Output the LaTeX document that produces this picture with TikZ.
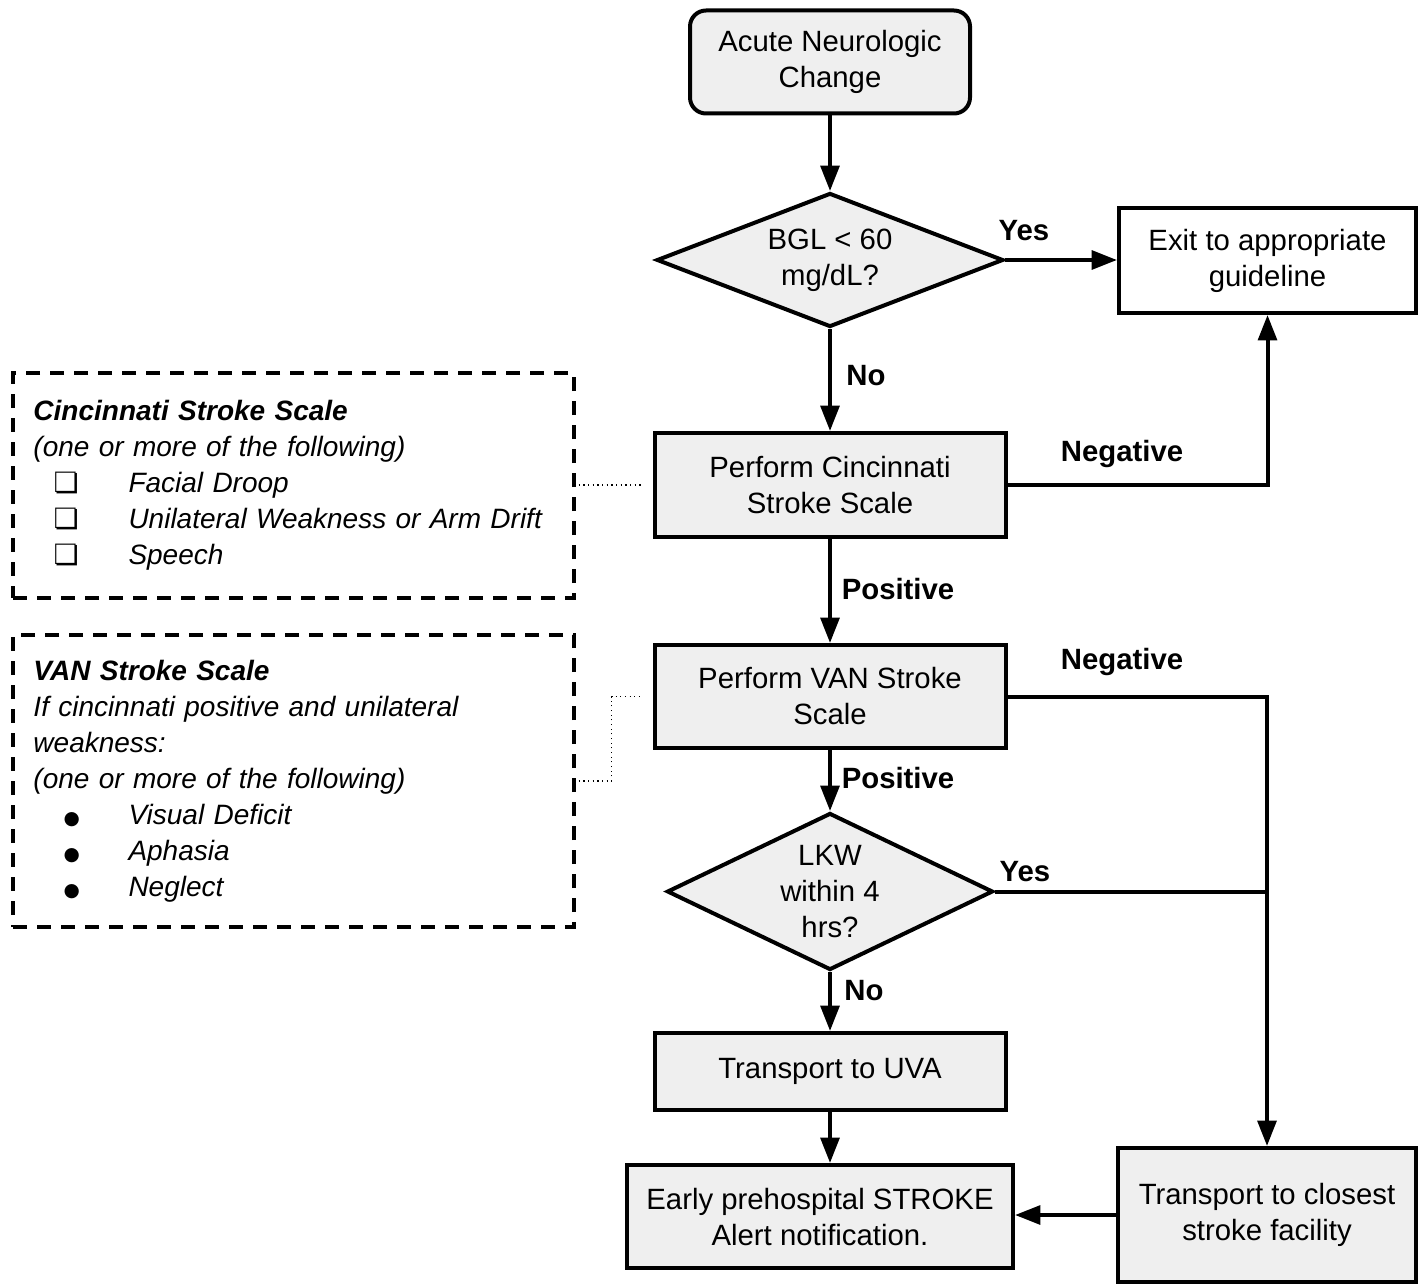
\documentclass[tikz,border=0pt]{standalone}
\usepackage{fontspec}
\setmainfont{Liberation Sans}
\newfontfamily\symfont{DejaVu Sans}
\usetikzlibrary{shapes.geometric,arrows.meta}
\definecolor{boxgray}{RGB}{239,239,239}
\newcommand\mainsize{\fontsize{22}{27}\selectfont}
\newcommand\notesize{\fontsize{21}{27}\selectfont}
\newcommand\chk{\makebox[71.25pt][l]{\hspace{15pt}{\symfont\upshape\fontsize{21}{21}\selectfont ❏}}}
\newcommand\dotitem{\makebox[71.25pt][l]{\hspace{22.5pt}{\symfont\upshape\fontsize{14}{14}\selectfont ●}}}
\tikzset{
  procbox/.style={draw, line width=3pt, fill=boxgray, align=center, inner sep=0pt, font=\mainsize},
  decision/.style={diamond, draw, line width=3pt, fill=boxgray, align=center, inner sep=0pt, font=\mainsize},
  flow/.style={line width=3pt, -{Triangle[length=19pt,width=14pt]}},
  joinline/.style={line width=3pt},
  lbl/.style={font=\mainsize\bfseries, inner sep=0pt},
  notebox/.style={draw, line width=2.6pt, dash pattern=on 10.5pt off 7.5pt, align=left,
    inner xsep=15pt, inner ysep=0pt, text width=390pt, font=\notesize\itshape},
  dotlink/.style={line width=0.9pt, dash pattern=on 0.9pt off 2.6pt}
}
\begin{document}
\begin{tikzpicture}[x=0.75pt, y=-0.75pt]
\useasboundingbox (0,0) rectangle (1423,1284);

% main flow
\node[procbox, rounded corners=12pt, minimum width=210pt, minimum height=77.25pt] (start) at (830,62) {Acute Neurologic\\Change};
\node[decision, shape aspect=2.59, minimum width=260pt, minimum height=100.5pt] (bgl) at (830,260) {BGL < 60\\mg/dL?};
\node[procbox, fill=white, minimum width=222.75pt, minimum height=78.75pt] (exit) at (1267.5,260.5) {Exit to appropriate\\guideline};
\node[procbox, minimum width=263.25pt, minimum height=78pt] (cinc) at (830,485) {Perform Cincinnati\\Stroke Scale};
\node[procbox, minimum width=263.25pt, minimum height=77.25pt] (van) at (830,696.5) {Perform VAN Stroke\\Scale};
\node[decision, shape aspect=2.08, minimum width=244.5pt, minimum height=117.75pt] (lkw) at (830,891.5) {LKW\\within 4\\hrs?};
\node[procbox, minimum width=263.25pt, minimum height=57.75pt] (uva) at (830,1071.5) {Transport to UVA};
\node[procbox, minimum width=289.5pt, minimum height=77.25pt] (early) at (820,1216.5) {Early prehospital STROKE\\Alert notification.};
\node[procbox, minimum width=223.5pt, minimum height=100.5pt] (closest) at (1267,1215) {Transport to closest\\stroke facility};

% side notes
\node[notebox, minimum width=420.75pt, minimum height=168.75pt] (cssnote) at (293.5,485.5) {%
  \textbf{Cincinnati Stroke Scale}\\
  (one or more of the following)\\
  \chk Facial Droop\\
  \chk Unilateral Weakness or Arm Drift\\
  \chk Speech};
\node[notebox, minimum width=420.75pt, minimum height=219pt] (vannote) at (293.5,781) {%
  \textbf{VAN Stroke Scale}\\
  If cincinnati positive and unilateral\\
  weakness:\\
  (one or more of the following)\\
  \dotitem Visual Deficit\\
  \dotitem Aphasia\\
  \dotitem Neglect};

% connectors
\draw[flow] (start.south) -- (bgl.north);
\draw[flow] (bgl.east) -- (bgl.east -| exit.west);
\draw[flow] (bgl.south) -- (cinc.north);
\draw[flow] (cinc.east) -| (exit.south);
\draw[flow] (cinc.south) -- (van.north);
\draw[flow] (van.east) -| (closest.north);
\draw[flow] (van.south) -- (lkw.north);
\draw[joinline] (lkw.east) -- (lkw.east -| closest.north);
\draw[flow] (lkw.south) -- (uva.north);
\draw[flow] (uva.south) -- (uva.south |- early.north);
\draw[flow] (closest.west) -- (closest.west -| early.east);

% dotted links from the notes
\draw[dotlink] ([xshift=2.25pt]cssnote.east |- cinc.west) -- ([xshift=-7.5pt]cinc.west);
\draw[dotlink] ([xshift=2.25pt]vannote.east) -| ([xshift=-30.75pt]van.west) -- ([xshift=-7.5pt]van.west);

% branch labels
\node[lbl] (yesA) at (1024,231) {Yes};
\node[lbl] (noA) at (866,376) {No};
\node[lbl] (negA) at (1122,454) {Negative};
\node[lbl] (posA) at (898,589) {Positive};
\node[lbl] (negB) at (1122,662) {Negative};
\node[lbl] (posB) at (898,778) {Positive};
\node[lbl] (yesB) at (1025,872) {Yes};
\node[lbl] (noB) at (864,991) {No};
\end{tikzpicture}
\end{document}
